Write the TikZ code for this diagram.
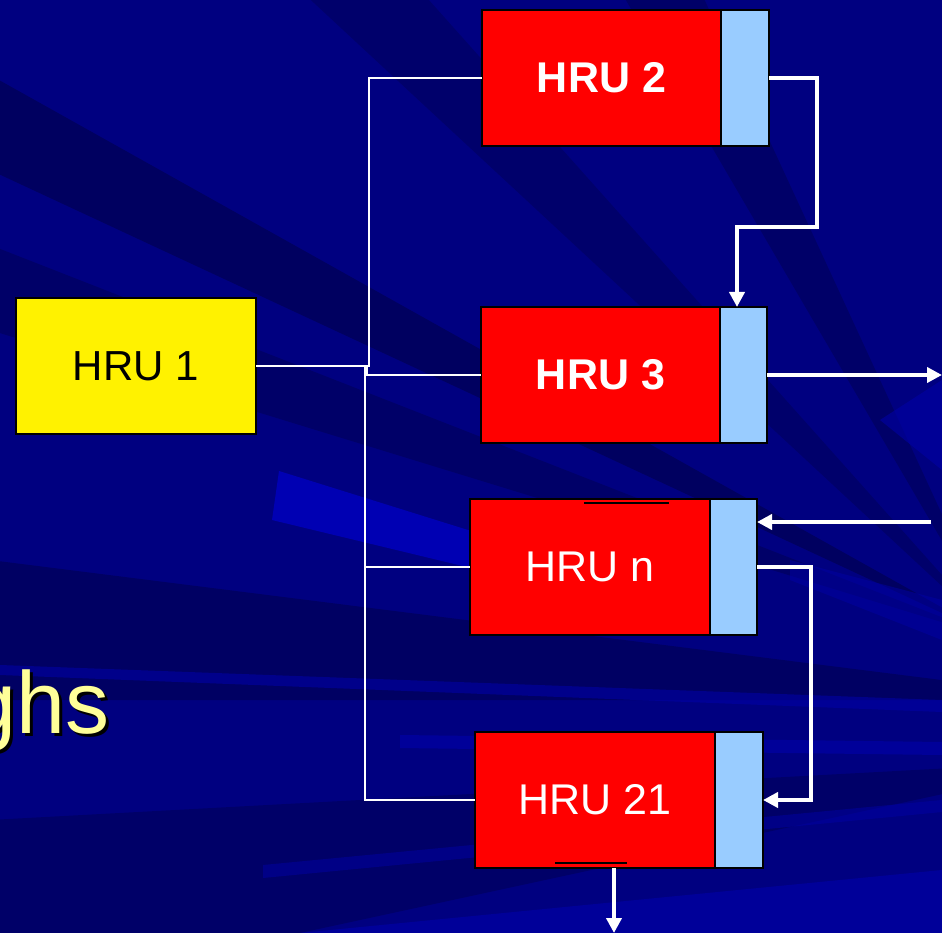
\documentclass[tikz,border=0pt]{standalone}
\usepackage{fontspec}
\setmainfont{Liberation Sans}
\usetikzlibrary{arrows.meta,calc}
\definecolor{bgbase}{RGB}{0,0,128}
\definecolor{bgdark}{RGB}{0,0,88}
\definecolor{bglight}{RGB}{0,0,165}
\definecolor{hrublue}{RGB}{153,204,255}
\definecolor{ghsyellow}{RGB}{255,255,153}
\tikzset{
  redbox/.style={draw=black, line width=2pt, fill=red, text=white, inner sep=0pt, outer sep=0pt,
    minimum width=240pt, minimum height=136pt, font=\fontsize{43}{50}\selectfont},
  bluebox/.style={draw=black, line width=2pt, fill=hrublue, inner sep=0pt, outer sep=0pt,
    minimum width=47pt, minimum height=136pt, anchor=west},
  yellowbox/.style={draw=black, line width=2pt, fill=yellow, text=black, inner sep=0pt, outer sep=0pt,
    minimum width=240pt, minimum height=136pt, font=\fontsize{42}{50}\selectfont},
  thinwire/.style={draw=white, line width=1.7pt},
  flowarrow/.style={draw=white, line width=4pt, -{Triangle[length=15pt,width=15pt]}},
  tick/.style={draw=black, line width=2pt}
}
\begin{document}
\begin{tikzpicture}[x=1pt,y=-1pt]
\useasboundingbox (0,0) rectangle (942,933);
\clip (0,0) rectangle (942,933);
% background
\fill[bgbase] (0,0) rectangle (942,933);
\coordinate (V) at (1000,640);
\fill[bgdark, opacity=0.8] (V) -- (-10,75) -- (-10,170) -- cycle;
\fill[bgdark, opacity=0.6] (V) -- (-10,245) -- (-10,330) -- cycle;
\fill[bgdark, opacity=0.5] (V) -- (300,-10) -- (420,-10) -- cycle;
\fill[bgdark, opacity=0.6] (V) -- (620,-10) -- (700,-10) -- cycle;
\fill[bgdark, opacity=0.7] (1100,700) -- (-10,560) -- (-10,700) -- cycle;
\fill[bgdark, opacity=0.6] (1100,760) -- (-10,820) -- (-10,933) -- (300,933) -- cycle;
\fill[bglight, opacity=0.7] (400,735) -- (942,742) -- (942,755) -- (400,748) -- cycle;
\fill[bglight, opacity=0.7] (300,933) -- (942,870) -- (942,933) -- cycle;
\fill[bglight, opacity=0.6] (0,665) -- (942,700) -- (942,712) -- (0,675) -- cycle;
\fill[bglight, opacity=0.5] (263,865) -- (942,800) -- (942,812) -- (263,878) -- cycle;
\fill[blue!30!bglight, opacity=0.8] (279,471) -- (500,540) -- (500,575) -- (272,520) -- cycle;
\fill[bglight, opacity=0.6] (880,420) -- (942,380) -- (942,470) -- cycle;
\fill[bglight, opacity=0.5] (790,560) -- (942,600) -- (942,640) -- (790,580) -- cycle;

% text fragment with drop shadow
\node[anchor=base east, inner sep=0pt, text=black, font=\fontsize{88}{96}\selectfont] at (113,736) {ghs};
\node[anchor=base east, inner sep=0pt, text=ghsyellow, font=\fontsize{88}{96}\selectfont] (ghs) at (110,733) {ghs};

% boxes
\node[yellowbox, anchor=north west] (h1) at (16,298) {HRU 1};
\node[redbox, anchor=north west, minimum width=239pt, font=\fontsize{43}{50}\selectfont\bfseries] (h2) at (482,10) {HRU 2};
\node[bluebox, minimum width=48pt] (h2b) at (h2.east) {};
\node[redbox, anchor=north west, minimum width=239pt, font=\fontsize{43}{50}\selectfont\bfseries] (h3) at (481,307) {HRU 3};
\node[bluebox] (h3b) at (h3.east) {};
\node[redbox, anchor=north west] (hn) at (470,499) {HRU n};
\node[bluebox] (hnb) at (hn.east) {};
\node[redbox, anchor=north west] (h21) at (475,732) {HRU 21};
\node[bluebox, minimum width=48pt] (h21b) at (h21.east) {};

% small black marks
\draw[tick] (584,503) -- (669,503);
\draw[tick] (555,863) -- (627,863);

% thin connectors from HRU 1
\coordinate (j1) at (369,366);
\coordinate (j2) at (365,366);
\coordinate (j3) at (367,366);
\draw[thinwire] (h1.east) -- (j1) |- (h2.west);
\draw[thinwire] (j2) |- (h21.west);
\draw[thinwire] (j2 |- hn.west) -- (hn.west);
\draw[thinwire] (j3) |- (h3.west);

% thick flow arrows
\coordinate (b1) at (817,227);
\coordinate (c737) at (737,0);
\draw[flowarrow] (h2b.east) -| (b1) -| (c737 |- h3b.north);
\coordinate (out3) at (942,375);
\draw[flowarrow] (h3b.east) -- (out3 |- h3b.east);
\coordinate (inn) at (931,522);
\draw[flowarrow] (inn) -- (inn -| hnb.east);
\coordinate (b2) at (811,800);
\draw[flowarrow] (hnb.east) -| (b2) -- (h21b.east);
\coordinate (c614) at (614,0);
\coordinate (out21) at (614,933);
\draw[flowarrow] (c614 |- h21.south) -- (out21);
\end{tikzpicture}
\end{document}
